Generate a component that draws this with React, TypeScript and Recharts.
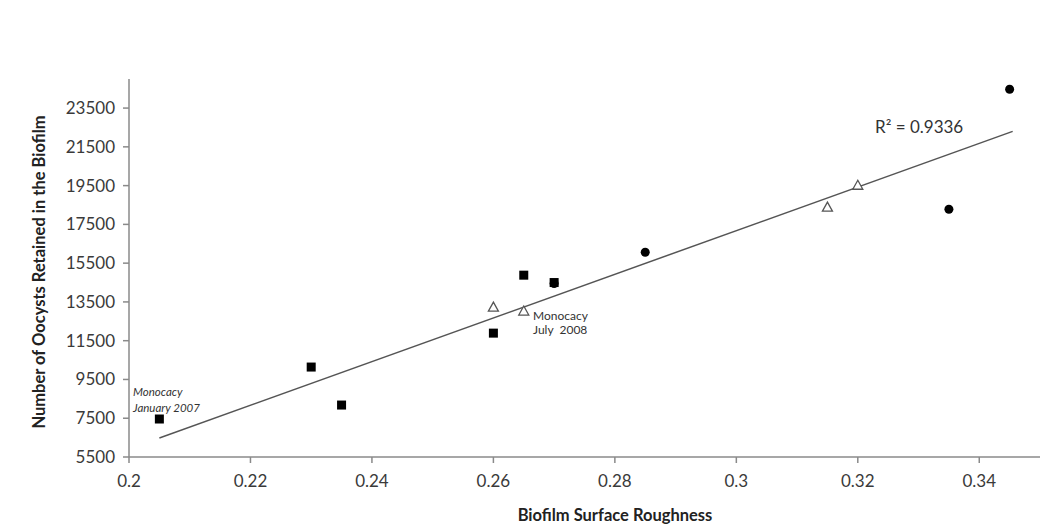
import { ScatterChart, Scatter, XAxis, YAxis } from 'recharts'

// roughness vs retained oocysts
const squarePoints = [
  { x: 0.205, y: 7460 },
  { x: 0.23, y: 10140 },
  { x: 0.235, y: 8180 },
  { x: 0.26, y: 11890 },
  { x: 0.265, y: 14880 },
  { x: 0.27, y: 14500 },
]
const circlePoints = [
  { x: 0.27, y: 14450 },
  { x: 0.285, y: 16060 },
  { x: 0.335, y: 18280 },
  { x: 0.345, y: 24470 },
]
const trianglePoints = [
  { x: 0.26, y: 13230 },
  { x: 0.265, y: 13030 },
  { x: 0.315, y: 18390 },
  { x: 0.32, y: 19520 },
]
// linear trend line end points
const trendPoints = [
  { x: 0.205, y: 6480 },
  { x: 0.3455, y: 22300 },
]
const xTicks = [0.2, 0.22, 0.24, 0.26, 0.28, 0.3, 0.32, 0.34]
const yTicks = [5500, 7500, 9500, 11500, 13500, 15500, 17500, 19500, 21500, 23500]

const FONT = 'Lato, "DejaVu Sans", sans-serif'
const tickStyle = { fill: '#3a3a3a', fontSize: 17, fontFamily: FONT }

const Square = (props: any) => (
  <rect x={props.cx - 4.5} y={props.cy - 4.5} width={9} height={9} fill="#000" />
)
const Dot = (props: any) => <circle cx={props.cx} cy={props.cy} r={4.5} fill="#000" />
const Triangle = (props: any) => {
  const { cx, cy } = props
  return (
    <path
      d={`M${cx},${cy - 5} L${cx + 5},${cy + 4} L${cx - 5},${cy + 4} Z`}
      fill="#fff"
      stroke="#555"
      strokeWidth={1.3}
    />
  )
}

export default function App() {
  return (
    <div style={{ position: 'absolute', left: 0, top: 0, width: 1040, height: 525, background: '#fff', fontFamily: FONT }}>
      <ScatterChart width={1040} height={525} margin={{ top: 79, right: 0, left: 0, bottom: 28 }}>
        <XAxis
          type="number"
          dataKey="x"
          domain={[0.2, 0.35]}
          ticks={xTicks}
          allowDataOverflow
          height={40}
          stroke="#8a8a8a"
          strokeWidth={1.5}
          tickSize={6}
          tickMargin={12}
          tick={tickStyle}
          tickFormatter={(v) => String(v)}
        />
        <YAxis
          type="number"
          dataKey="y"
          domain={[5500, 25000]}
          ticks={yTicks}
          allowDataOverflow
          width={129}
          stroke="#8a8a8a"
          strokeWidth={1.5}
          tickSize={6}
          tickMargin={8}
          tick={tickStyle}
        />
        <Scatter
          data={trendPoints}
          line={{ stroke: '#555', strokeWidth: 1.5 }}
          shape={() => <g />}
          isAnimationActive={false}
        />
        <Scatter data={squarePoints} shape={Square} isAnimationActive={false} />
        <Scatter data={circlePoints} shape={Dot} isAnimationActive={false} />
        <Scatter data={trianglePoints} shape={Triangle} isAnimationActive={false} />
      </ScatterChart>

      {/* titles and notes on top of the svg */}
      <div
        style={{
          position: 'absolute', left: 39, top: 272, transform: 'translate(-50%, -50%) rotate(-90deg)',
          whiteSpace: 'nowrap', fontWeight: 700, fontSize: 16.5, color: '#222',
        }}
      >
        Number of Oocysts Retained in the Biofilm
      </div>
      <div
        style={{
          position: 'absolute', left: 615, top: 515, transform: 'translate(-50%, -50%)',
          whiteSpace: 'nowrap', fontWeight: 700, fontSize: 16.5, color: '#222',
        }}
      >
        Biofilm Surface Roughness
      </div>
      <div style={{ position: 'absolute', left: 875, top: 116, fontSize: 17, color: '#333', whiteSpace: 'nowrap' }}>
        R² = 0.9336
      </div>
      <div style={{ position: 'absolute', left: 133, top: 384, fontSize: 11.5, fontStyle: 'italic', color: '#333', lineHeight: '16px' }}>
        Monocacy
        <br />
        January 2007
      </div>
      <div style={{ position: 'absolute', left: 533, top: 309, fontSize: 12, color: '#333', lineHeight: '14px' }}>
        Monocacy
        <br />
        July&nbsp; 2008
      </div>
    </div>
  )
}
